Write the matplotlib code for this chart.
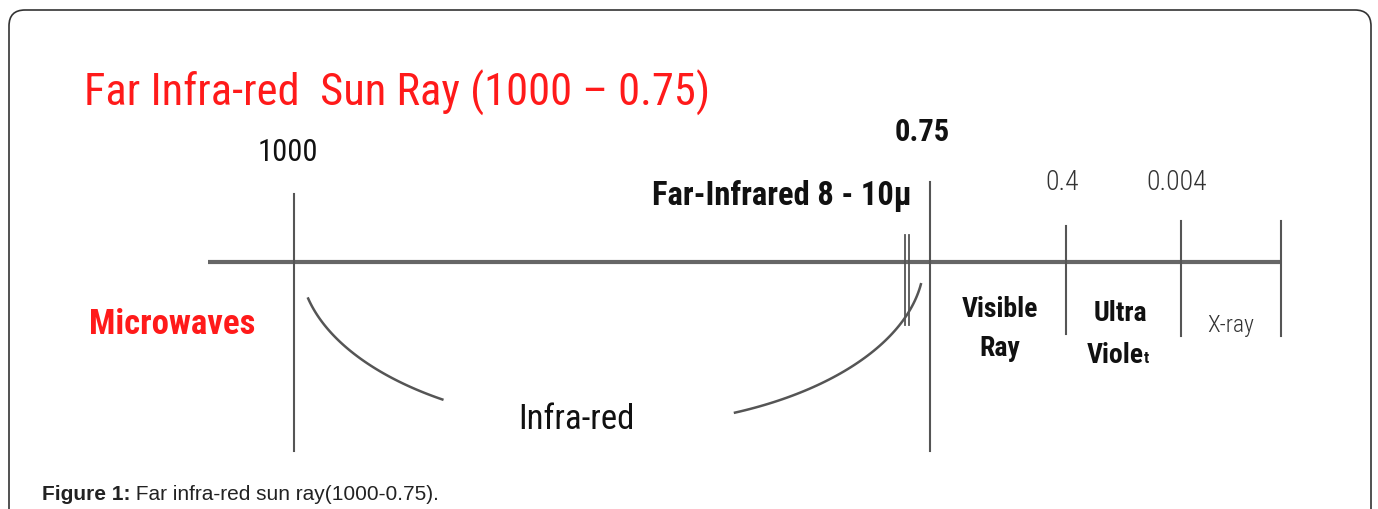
import numpy as np
import matplotlib
matplotlib.use("Agg")
import matplotlib.pyplot as plt
from matplotlib.patches import FancyBboxPatch

narrow = "Roboto Condensed"

# ticks on the spectrum bar (label, x pixel, top, bottom)
tick_labels = ["1000", "0.75", "0.4", "0.004", ""]
tick_x = [294, 930, 1066, 1181, 1281]
tick_top = [195, 183, 227, 222, 222]
tick_bot = [452, 452, 335, 337, 337]

bands = ["Visible\nRay", "Ultra", "Viole", "X-ray"]

fig = plt.figure(figsize=(13.78, 5.10), dpi=100)
ax = fig.add_axes([0, 0, 1, 1])
ax.set_xlim(0, 1378)
ax.set_ylim(510, 0)
ax.axis("off")

# frame
box = FancyBboxPatch((9, 11), 1362, 540, boxstyle="round,pad=0,rounding_size=16",
                     fc="white", ec="#333333", lw=1.2)
ax.add_patch(box)

grey = "#555555"
ax.plot([208, 1280], [263, 263], color="#666666", lw=3, solid_capstyle="butt")
for x, t, b in zip(tick_x, tick_top, tick_bot):
    ax.plot([x, x], [t, b], color=grey, lw=1.5)
# far infrared double tick
for x in [905, 909]:
    ax.plot([x, x], [236, 326], color=grey, lw=1.3)

# infra-red arcs (two pieces of one ellipse)
cx, cy, a, b = 612, 262, 312, 165
th = np.linspace(np.pi * 0.927, np.pi * 0.683, 60)
ax.plot(cx + a * np.cos(th), cy + b * np.sin(th), color=grey, lw=1.8)
th = np.linspace(np.pi * 0.371, np.pi * 0.045, 60)
ax.plot(cx + a * np.cos(th), cy + b * np.sin(th), color=grey, lw=1.8)

red = "#ff1a1a"
ax.text(84, 93, "Far Infra-red  Sun Ray (1000 \u2013 0.75)", color=red, family=narrow,
        fontsize=32, va="center", ha="left")
ax.text(288, 153, tick_labels[0], family=narrow, fontsize=22, ha="center", va="center", color="#111111")
ax.text(922, 132, tick_labels[1], family=narrow, fontsize=22, fontweight="bold", ha="center", va="center", color="#111111")
ax.text(1062, 183, tick_labels[2], family=narrow, fontsize=20, fontweight="light", ha="center", va="center", color="#333333")
ax.text(1177, 183, tick_labels[3], family=narrow, fontsize=20, fontweight="light", ha="center", va="center", color="#333333")
ax.text(912, 196, "Far-Infrared 8 - 10\u00b5", family=narrow, fontsize=23.5, fontweight="bold",
        ha="right", va="center", color="#111111")

ax.text(1000, 329, bands[0], family=narrow, fontsize=20, fontweight="bold", ha="center",
        va="center", color="#111111", linespacing=1.6)
ax.text(1120, 314, bands[1], family=narrow, fontsize=20, fontweight="bold", ha="center",
        va="center", color="#111111")
v = ax.text(1115, 356, bands[2], family=narrow, fontsize=20, fontweight="bold", ha="center",
            va="center", color="#111111")
ax.annotate("t", xycoords=v, xy=(1, 0.12), xytext=(0.5, 0), textcoords="offset points",
            family=narrow, fontsize=12, fontweight="bold", ha="left", va="bottom", color="#111111")
ax.text(1231, 326, bands[3], family=narrow, fontsize=17, fontweight="light", ha="center", va="center", color="#333333")

ax.text(172, 325, "Microwaves", family=narrow, fontsize=25, fontweight="bold", color=red,
        ha="center", va="center")
ax.text(576, 420, "Infra-red", family=narrow, fontsize=25, ha="center", va="center", color="#111111")

t1 = ax.text(42, 495, "Figure 1:", family="Liberation Sans", fontsize=15, fontweight="bold",
             ha="left", va="center", color="#222222")
ax.annotate(" Far infra-red sun ray(1000-0.75).", xycoords=t1, xy=(1, 0.5), va="center",
            ha="left", family="Liberation Sans", fontsize=15, color="#222222")

fig.savefig("out.png", dpi=100)
